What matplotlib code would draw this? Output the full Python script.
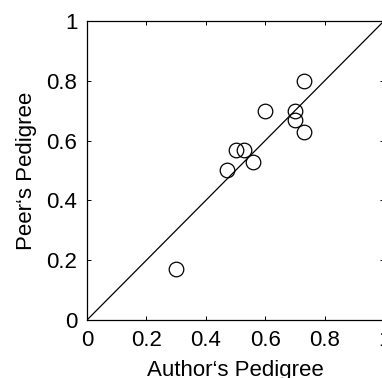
import matplotlib
matplotlib.use('Agg')
import matplotlib.pyplot as plt

# author vs peer pedigree scores
author = [0.30, 0.47, 0.50, 0.53, 0.56, 0.60, 0.70, 0.70, 0.73, 0.73]
peer = [0.17, 0.50, 0.57, 0.57, 0.53, 0.70, 0.70, 0.67, 0.63, 0.80]
ticks = [0, 0.2, 0.4, 0.6, 0.8, 1]
tick_labels = ['0', '0.2', '0.4', '0.6', '0.8', '1']

plt.rcParams['font.family'] = ['Liberation Sans', 'DejaVu Sans']

fig = plt.figure(figsize=(3.82, 3.78), dpi=100)
ax = fig.add_axes([87/382, 1 - 320/378, 297/382, 299/378])

ax.plot([0, 1], [0, 1], color='black', lw=0.9)
ax.plot(author, peer, 'o', mfc='none', mec='black', ms=10.5, mew=0.9)

ax.set_xlim(0, 1)
ax.set_ylim(0, 1)
ax.set_xticks(ticks)
ax.set_xticklabels(tick_labels)
ax.set_yticks(ticks)
ax.set_yticklabels(tick_labels)
ax.tick_params(direction='in', length=3, width=0.7, labelsize=16, pad=7,
               top=True, right=True)
for s in ax.spines.values():
    s.set_linewidth(0.9)

ax.set_xlabel('Author\u2018s Pedigree', fontsize=16, labelpad=6.5)
ax.set_ylabel('Peer\u2018s Pedigree', fontsize=16, labelpad=7)

fig.savefig('out.png', dpi=100)
